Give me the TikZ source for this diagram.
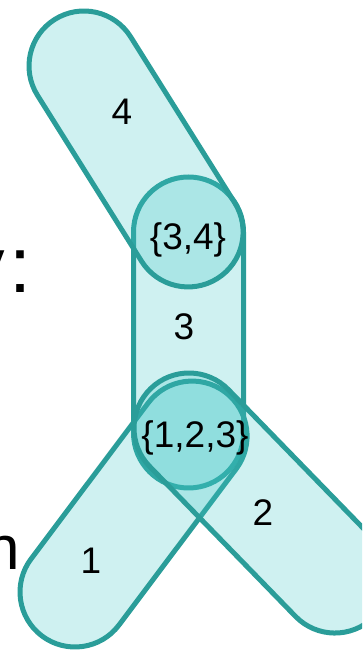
\documentclass[tikz,border=0pt]{standalone}
\usepackage{fontspec}
\setmainfont{Liberation Sans}
\definecolor{edgefill}{RGB}{63,199,199}
\definecolor{edgeline}{RGB}{42,157,153}
\def\hr{55}
\newcommand{\capsule}[3]{%
  \begin{scope}[shift={#1}, rotate=#2]
    \draw[hedge] (0,-\hr) -- (#3,-\hr) arc[start angle=-90,end angle=90,radius=\hr]
      -- (0,\hr) arc[start angle=90,end angle=270,radius=\hr] -- cycle;
  \end{scope}}
\tikzset{
  hedge/.style={draw=edgeline, line width=5pt, fill=edgefill, fill opacity=0.25, line join=round},
  lab/.style={font=\fontsize{37}{40}\selectfont, text=black, inner sep=0pt},
}
\begin{document}
\begin{tikzpicture}[x=1pt,y=1pt]
\useasboundingbox (0,0) rectangle (362,650);
\clip (0,0) rectangle (362,650);
% partial text cut by the left edge
\node[anchor=base west, inner sep=0pt, font=\fontsize{79}{80}\selectfont] (ty) at (-35,357) {y\kern5pt:};
\node[anchor=base west, inner sep=0pt, font=\fontsize{62}{64}\selectfont] (tn) at (-15,80) {n};
% hyperedges
\coordinate (a3) at (188.5,418);
\coordinate (a1) at (75,58);
\coordinate (a2) at (189,222);
\coordinate (a4) at (84,584);
\capsule{(a3)}{-90}{201}
\capsule{(a1)}{53.1}{195}
\capsule{(a2)}{-45.8}{209.3}
\capsule{(a4)}{-57.9}{195.9}
% labels
\node[lab] (e4) at (122,538) {4};
\node[lab] (e3) at (184,323) {3};
\node[lab] (e2) at (263,137) {2};
\node[lab] (e1) at (91,89) {1};
\node[lab] (v34) at (188,410) {\{3,4\}};
\node[lab] (v123) at (195,212) {\{1,2,3\}};
\end{tikzpicture}
\end{document}
